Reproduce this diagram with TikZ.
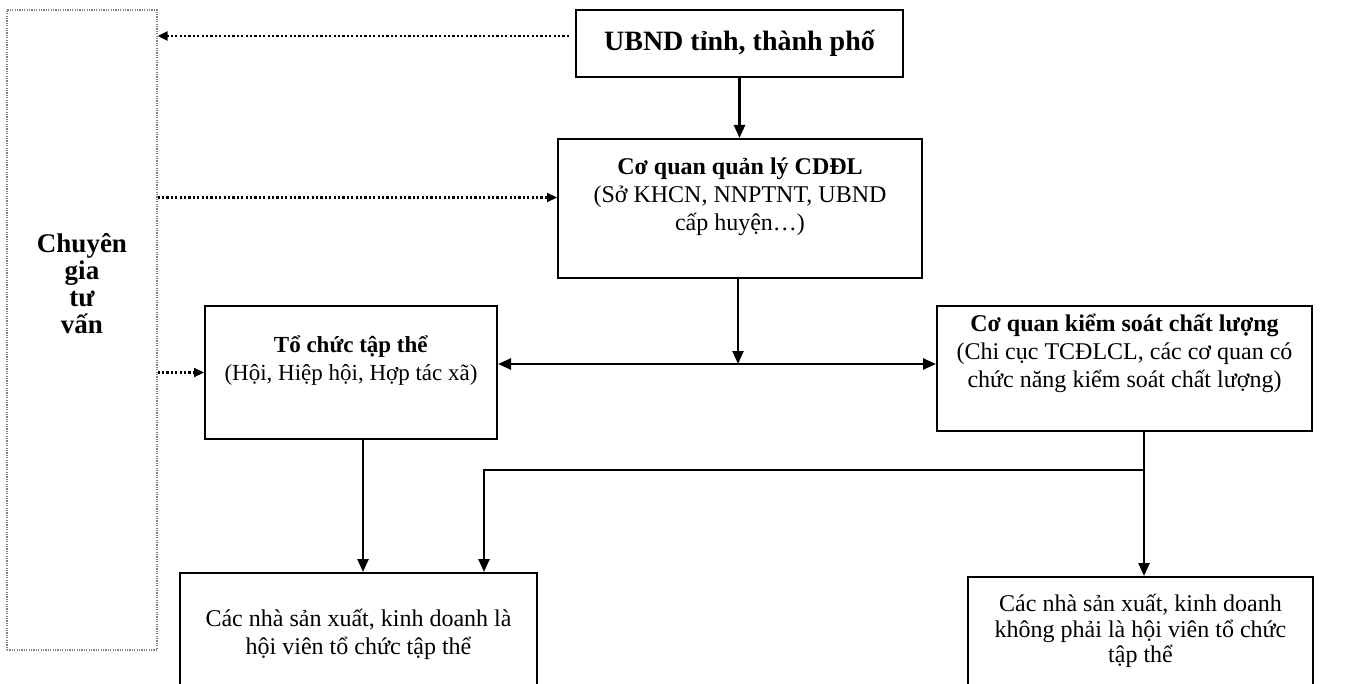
\documentclass[tikz,border=0pt]{standalone}
\usepackage{fontspec}
\setmainfont{Liberation Serif}
\usetikzlibrary{arrows.meta,positioning}

\tikzset{
  box/.style={draw, line width=1pt, inner sep=0pt},
  note/.style={align=center, font=\fontsize{12}{14}\selectfont},
  arrow/.style={line width=1.2pt, -{Triangle[length=6.5pt,width=5.5pt]}},
  twoway/.style={line width=1.2pt, {Triangle[length=6.5pt,width=5.5pt]}-{Triangle[length=6.5pt,width=5.5pt]}},
  dotarrow/.style={line width=1.1pt, dash pattern=on 1.1pt off 1.1pt, -{Triangle[length=5pt,width=4.5pt]}},
}

\begin{document}
\begin{tikzpicture}[x=0.5pt,y=-0.5pt]
\useasboundingbox (0,0) rectangle (1352,684);

% left column
\node[box, draw=gray, dash pattern=on 0.6pt off 0.6pt, line width=0.6pt, minimum width=75pt, minimum height=320pt] (expert) at (82,330) {};
\node[align=center, font=\fontsize{13.5}{13.5}\selectfont\bfseries] (experttext) at (82,284) {Chuyên\\gia\\tư\\vấn};

% boxes
\node[box, minimum width=163.5pt, minimum height=33.5pt, font=\fontsize{14}{16}\selectfont\bfseries] (ubnd) at (739.5,43.5) {UBND tỉnh, thành phố};

\node[box, minimum width=182pt, minimum height=69.5pt] (cqql) at (740,208.5) {};
\node[note] (cqqltext) at (740,197) {\textbf{Cơ quan quản lý CDĐL}\\(Sở KHCN, NNPTNT, UBND\\cấp huyện…)};

\node[box, minimum width=146pt, minimum height=66.5pt] (tctt) at (351,372.5) {};
\node[note, font=\fontsize{11.5}{14}\selectfont] (tctttext) at (351,361) {\textbf{Tổ chức tập thể}\\(Hội, Hiệp hội, Hợp tác xã)};

\node[box, minimum width=187.5pt, minimum height=62.5pt] (cqks) at (1124.5,368.5) {};
\node[note] (cqkstext) at (1124.5,353) {\textbf{Cơ quan kiểm soát chất lượng}\\(Chi cục TCĐLCL, các cơ quan có\\chức năng kiểm soát chất lượng)};

\node[box, minimum width=178.5pt, minimum height=57.5pt] (member) at (358.5,630.5) {};
\node[note] (membertext) at (358.5,634) {Các nhà sản xuất, kinh doanh là\\hội viên tổ chức tập thể};

\node[box, minimum width=172.5pt, minimum height=55.5pt] (nonmember) at (1140.5,632.5) {};
\node[note, font=\fontsize{12}{12.8}\selectfont] (nonmembertext) at (1140.5,631) {Các nhà sản xuất, kinh doanh\\không phải là hội viên tổ chức\\tập thể};

% advice links
\coordinate (u) at ([xshift=-3pt,yshift=3.75pt]ubnd.west);
\draw[dotarrow] (u) -- (u -| expert.east);
\coordinate (m) at ([yshift=5.5pt]cqql.west);
\draw[dotarrow] (m -| expert.east) -- (m);
\draw[dotarrow] (tctt.west -| expert.east) -- (tctt.west);

% management links
\draw[arrow] (ubnd.south) -- (ubnd.south |- cqql.north);
\coordinate (hub) at (738,364);
\draw[arrow] (cqql.south -| hub) -- (hub);
\draw[twoway] (hub -| tctt.east) -- (hub -| cqks.west);

\coordinate (t) at (363,439);
\draw[arrow] (t) -- (t |- member.north);

\coordinate (split) at (1144,470);
\coordinate (bend) at (484,470);
\draw[line width=1.2pt] (cqks.south -| split) -- (split);
\draw[arrow] (split) -- (split |- nonmember.north);
\draw[arrow] (split) -- (bend) -- (bend |- member.north);
\end{tikzpicture}
\end{document}
